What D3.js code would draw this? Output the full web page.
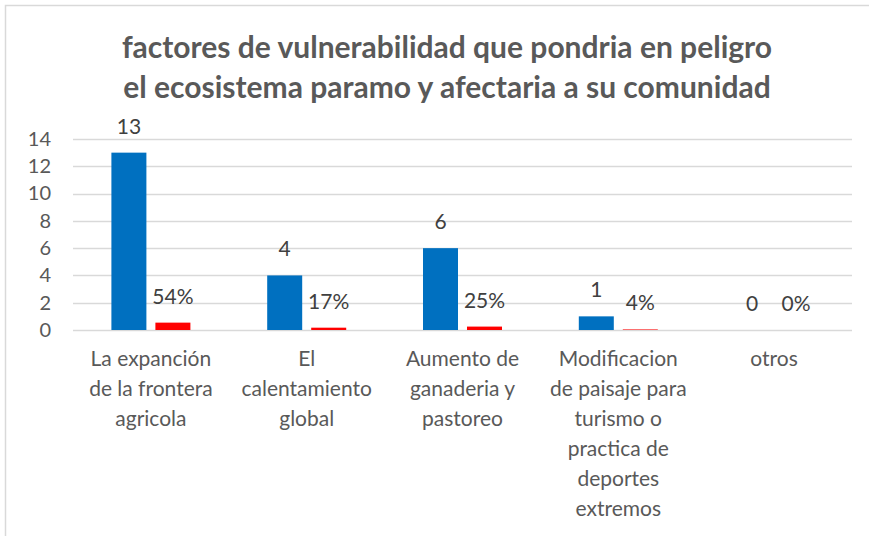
<!DOCTYPE html>
<html>
<head>
<meta charset="utf-8">
<script src="https://cdn.jsdelivr.net/npm/d3@7"></script>
<style>
  body { margin: 0; background: #fff; }
  svg { display: block; font-family: Lato, "Open Sans", sans-serif; }
</style>
</head>
<body>
<div id="chart"></div>
<script>
const titleLines = [
  'factores de vulnerabilidad que pondria en peligro',
  'el ecosistema paramo y afectaria a su comunidad'
];
const categories = [
  'La expanción\nde la frontera\nagricola',
  'El\ncalentamiento\nglobal',
  'Aumento de\nganaderia y\npastoreo',
  'Modificacion\nde paisaje para\nturismo o\npractica de\ndeportes\nextremos',
  'otros'
];
const counts = [13, 4, 6, 1, 0];
const shares = [0.54, 0.17, 0.25, 0.04, 0];
const shareLabels = ['54%', '17%', '25%', '4%', '0%'];
const yTicks = [0, 2, 4, 6, 8, 10, 12, 14];

const width = 869, height = 536;
const margin = { top: 139, right: 17, bottom: 206, left: 73 };
const plotW = width - margin.left - margin.right;
const plotH = height - margin.top - margin.bottom;

const svg = d3.select('#chart').append('svg')
  .attr('width', width)
  .attr('height', height);

// marco del gráfico (solo arriba e izquierda se ven)
svg.append('path')
  .attr('d', `M5.5,${height} V5.5 H${width}`)
  .attr('fill', 'none')
  .attr('stroke', '#d9d9d9')
  .attr('stroke-width', 1.5);

const title = svg.append('text')
  .attr('text-anchor', 'middle')
  .attr('font-weight', 'bold')
  .attr('font-size', 30)
  .attr('fill', '#595959');
titleLines.forEach((t, i) => {
  title.append('tspan')
    .attr('x', 447)
    .attr('y', 58 + i * 40)
    .text(t);
});

const x = d3.scaleBand()
  .domain(categories)
  .range([margin.left, margin.left + plotW]);

const y = d3.scaleLinear()
  .domain([0, 14])
  .range([margin.top + plotH, margin.top]);

const barW = 35, barGap = 9;
const groupPad = (x.bandwidth() - (barW * 2 + barGap)) / 2;

// grid
svg.append('g')
  .selectAll('line')
  .data(yTicks)
  .join('line')
  .attr('x1', margin.left)
  .attr('x2', margin.left + plotW)
  .attr('y1', d => Math.round(y(d)) + 0.5)
  .attr('y2', d => Math.round(y(d)) + 0.5)
  .attr('stroke', '#d9d9d9')
  .attr('stroke-width', 1.5);

// eje y
const yAxis = svg.append('g')
  .attr('transform', `translate(${margin.left - 22},0)`)
  .call(d3.axisLeft(y).tickValues(yTicks).tickSize(0).tickPadding(0));
yAxis.select('.domain').remove();
yAxis.selectAll('text')
  .attr('font-size', 20)
  .attr('font-family', 'Lato, "Open Sans", sans-serif')
  .attr('fill', '#595959');

// barras
const groups = svg.append('g')
  .selectAll('g')
  .data(categories)
  .join('g')
  .attr('transform', d => `translate(${x(d) + groupPad},0)`);

groups.append('rect')
  .attr('x', 0)
  .attr('width', barW)
  .attr('y', (d, i) => y(counts[i]))
  .attr('height', (d, i) => y(0) - y(counts[i]))
  .attr('fill', '#0070c0');

groups.append('rect')
  .attr('x', barW + barGap)
  .attr('width', barW)
  .attr('y', (d, i) => y(shares[i]))
  .attr('height', (d, i) => y(0) - y(shares[i]))
  .attr('fill', '#ff0000');

// etiquetas de datos
groups.append('text')
  .attr('x', barW / 2)
  .attr('y', (d, i) => y(counts[i]) - 19)
  .attr('text-anchor', 'middle')
  .attr('font-size', 21)
  .attr('fill', '#404040')
  .text((d, i) => counts[i]);

groups.append('text')
  .attr('x', barW + barGap + barW / 2)
  .attr('y', (d, i) => y(shares[i]) - 19)
  .attr('text-anchor', 'middle')
  .attr('font-size', 21)
  .attr('fill', '#404040')
  .text((d, i) => shareLabels[i]);

// categorias
const catText = svg.append('g')
  .selectAll('text')
  .data(categories)
  .join('text')
  .attr('text-anchor', 'middle')
  .attr('font-size', 21)
  .attr('fill', '#595959');
catText.each(function(d) {
  const cx = x(d) + x.bandwidth() / 2;
  d.split('\n').forEach((line, j) => {
    d3.select(this).append('tspan')
      .attr('x', cx)
      .attr('y', 366 + j * 30)
      .text(line);
  });
});
</script>
</body>
</html>
